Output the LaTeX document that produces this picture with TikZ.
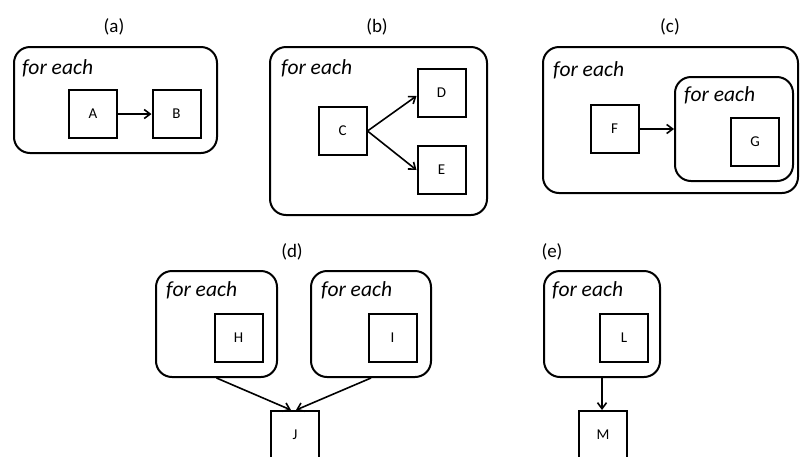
\documentclass[tikz,border=0pt]{standalone}
\usepackage{fontspec}
\setmainfont{Carlito}
\usetikzlibrary{arrows.meta,positioning}
\tikzset{
  container/.style={draw, line width=2pt, rounded corners=16pt, inner sep=0pt},
  smallbox/.style={draw, line width=2pt, minimum width=48pt, minimum height=48pt, inner sep=0pt, font=\fontsize{15}{15}\selectfont},
  foreach/.style={anchor=base west, inner sep=0pt, font=\fontsize{21.5}{21.5}\selectfont\itshape},
  plabel/.style={font=\fontsize{19}{19}\selectfont, inner sep=0pt},
  conn/.style={line width=1.6pt, -{Straight Barb[length=6pt,width=9pt,line width=1.6pt]}}
}
\begin{document}
\begin{tikzpicture}[x=1pt,y=-1pt]
\useasboundingbox (0,0) rectangle (800,456);
\clip (0,0) rectangle (800,456);
% (a)
\node[plabel] (la) at (114,27) {(a)};
\node[container, minimum width=203pt, minimum height=106pt] (ca) at (115.5,100) {};
\node[foreach] (fa) at ([xshift=9pt,yshift=-28pt]ca.north west) {for each};
\node[smallbox] (A) at (93,114) {A};
\node[smallbox] (B) at (176.5,114) {B};
\draw[conn] (A) -- (B);
% (b)
\node[plabel] (lb) at (377,27) {(b)};
\node[container, minimum width=217pt, minimum height=168pt] (cb) at (378.5,131) {};
\node[foreach] (fb) at ([xshift=12pt,yshift=-28pt]cb.north west) {for each};
\node[smallbox] (C) at (342.5,131) {C};
\node[smallbox] (D) at (441.5,93) {D};
\node[smallbox] (E) at (441.5,170) {E};
\draw[conn] (C.east) -- ([yshift=-3pt]D.west);
\draw[conn] (C.east) -- (E.west);
% (c)
\node[plabel] (lc) at (670,27) {(c)};
\node[container, minimum width=255pt, minimum height=146pt] (cc) at (670.5,120) {};
\node[foreach] (fc) at ([xshift=11pt,yshift=-30pt]cc.north west) {for each};
\node[container, minimum width=118pt, minimum height=104pt] (ci) at (734,129) {};
\node[foreach] (fi) at ([xshift=10pt,yshift=-25pt]ci.north west) {for each};
\node[smallbox] (F) at (614.5,129) {F};
\node[smallbox] (G) at (755,142) {G};
\draw[conn] (F) -- (ci);
% (d)
\node[plabel] (ld) at (292,252) {(d)};
\node[container, minimum width=121pt, minimum height=106pt] (ch) at (216.5,324) {};
\node[foreach] (fh) at ([xshift=11pt,yshift=-26pt]ch.north west) {for each};
\node[smallbox] (H) at (238.5,338) {H};
\node[container, minimum width=120pt, minimum height=106pt] (cI) at (371,324) {};
\node[foreach] (fI) at ([xshift=11pt,yshift=-26pt]cI.north west) {for each};
\node[smallbox] (I) at (392.5,338) {I};
\node[smallbox] (J) at (295,435) {J};
\draw[conn] (ch.south) -- ([xshift=-4pt]J.north);
\draw[conn] (cI.south) -- ([xshift=1pt]J.north);
% (e)
\node[plabel] (le) at (552,252) {(e)};
\node[container, minimum width=116pt, minimum height=106pt] (ce) at (602,324) {};
\node[foreach] (fe) at ([xshift=9pt,yshift=-26pt]ce.north west) {for each};
\node[smallbox] (L) at (624,338) {L};
\node[smallbox] (M) at (603,435) {M};
\draw[conn] (ce.south) -- (ce.south |- M.north);
\end{tikzpicture}
\end{document}
